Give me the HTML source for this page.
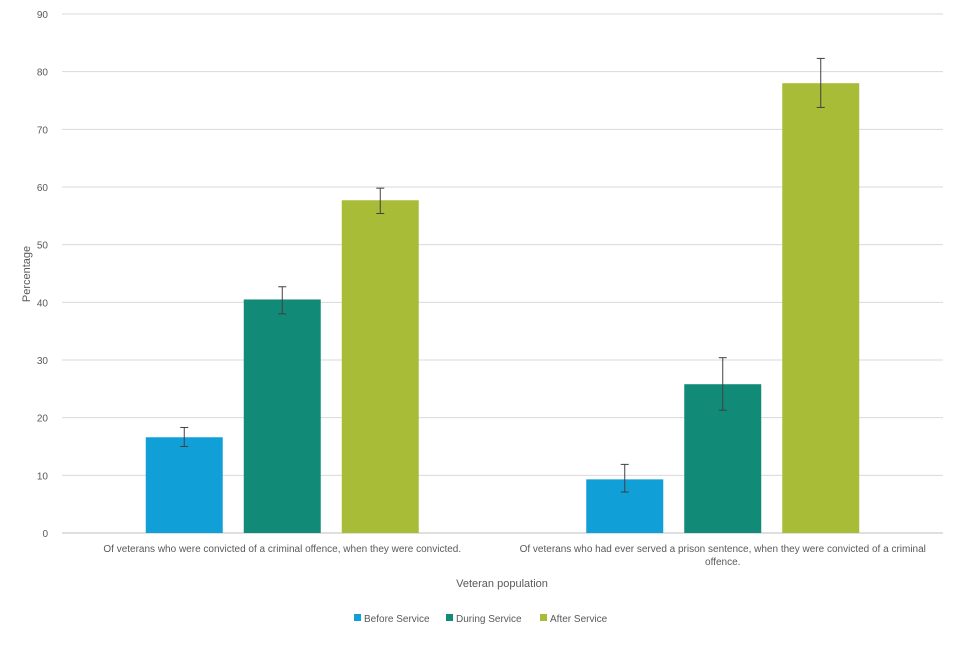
<!DOCTYPE html>
<html><head><meta charset="utf-8"><style>
body{margin:0;background:#fff;font-family:"Liberation Sans",sans-serif;}
text{font-family:"Liberation Sans",sans-serif;fill:#595959;}
</style></head><body>
<svg id="chart" width="960" height="640" xmlns="http://www.w3.org/2000/svg">
<g id="grid"></g>
<g id="bars"></g>
<g id="labels"></g>
<text transform="translate(30,274) rotate(-90)" font-size="11" text-anchor="middle">Percentage</text>
<text x="502" y="587" font-size="11" text-anchor="middle">Veteran population</text>
<g font-size="10">
<rect x="354" y="614" width="7" height="7" fill="#109fd6"/>
<text x="364" y="622">Before Service</text>
<rect x="446" y="614" width="7" height="7" fill="#118b77"/>
<text x="456" y="622">During Service</text>
<rect x="540" y="614" width="7" height="7" fill="#a8bc38"/>
<text x="550" y="622">After Service</text>
</g>
</svg>
<script>
const categories=[["Of veterans who were convicted of a criminal offence, when they were convicted."],["Of veterans who had ever served a prison sentence, when they were convicted of a criminal","offence."]];
const seriesNames=["Before Service","During Service","After Service"];
const seriesColors=["#109fd6","#118b77","#a8bc38"];
const beforeValues=[16.6,9.3];
const duringValues=[40.5,25.8];
const afterValues=[57.7,78.0];
const beforeErr=[[15.0,18.3],[7.1,11.9]];
const duringErr=[[38.0,42.7],[21.3,30.4]];
const afterErr=[[55.4,59.8],[73.8,82.3]];
const yTicks=[0,10,20,30,40,50,60,70,80,90];
const NS="http://www.w3.org/2000/svg";
const x0=62,x1=943,yTop=14,yBot=533;
const y=v=>yBot-(v/90)*(yBot-yTop);
const groupW=(x1-x0)/categories.length;
function mk(tag,attrs,parent){const e=document.createElementNS(NS,tag);for(const k in attrs)e.setAttribute(k,attrs[k]);parent.appendChild(e);return e;}
const grid=document.getElementById('grid'),bars=document.getElementById('bars'),labels=document.getElementById('labels');
yTicks.forEach(t=>{
 const l=mk('line',{x1:x0,x2:x1,y1:y(t),y2:y(t),stroke:t===0?'#bfbfbf':'#d9d9d9','stroke-width':1},grid);
 
 
 const tx=mk('text',{x:48,y:y(t)+4,'font-size':10,'text-anchor':'end'},labels);
 tx.textContent=t;
 
 
});
const vals=[beforeValues,duringValues,afterValues],errs=[beforeErr,duringErr,afterErr];
const bw=77,step=98;
categories.forEach((c,i)=>{
 const cx=x0+groupW*(i+0.5);
 vals.forEach((sv,s)=>{
  const bx=cx+(s-1)*step-bw/2;
  const r=mk('rect',{x:bx,y:y(sv[i]),width:bw,height:yBot-y(sv[i]),fill:seriesColors[s]},bars);
  
  
  const ex=bx+bw/2,[lo,hi]=errs[s][i];
  const g=mk('g',{stroke:'#404040','stroke-width':1},bars);
  
  
  mk('line',{x1:ex,x2:ex,y1:y(lo),y2:y(hi)},g);
  mk('line',{x1:ex-4,x2:ex+4,y1:y(lo),y2:y(lo)},g);
  mk('line',{x1:ex-4,x2:ex+4,y1:y(hi),y2:y(hi)},g);
 });
 c.forEach((line,j)=>{
  const t=mk('text',{x:cx,y:552+j*13,'font-size':10,'text-anchor':'middle'},labels);
  t.textContent=line;
  
  
 });
});
</script>
</body></html>
